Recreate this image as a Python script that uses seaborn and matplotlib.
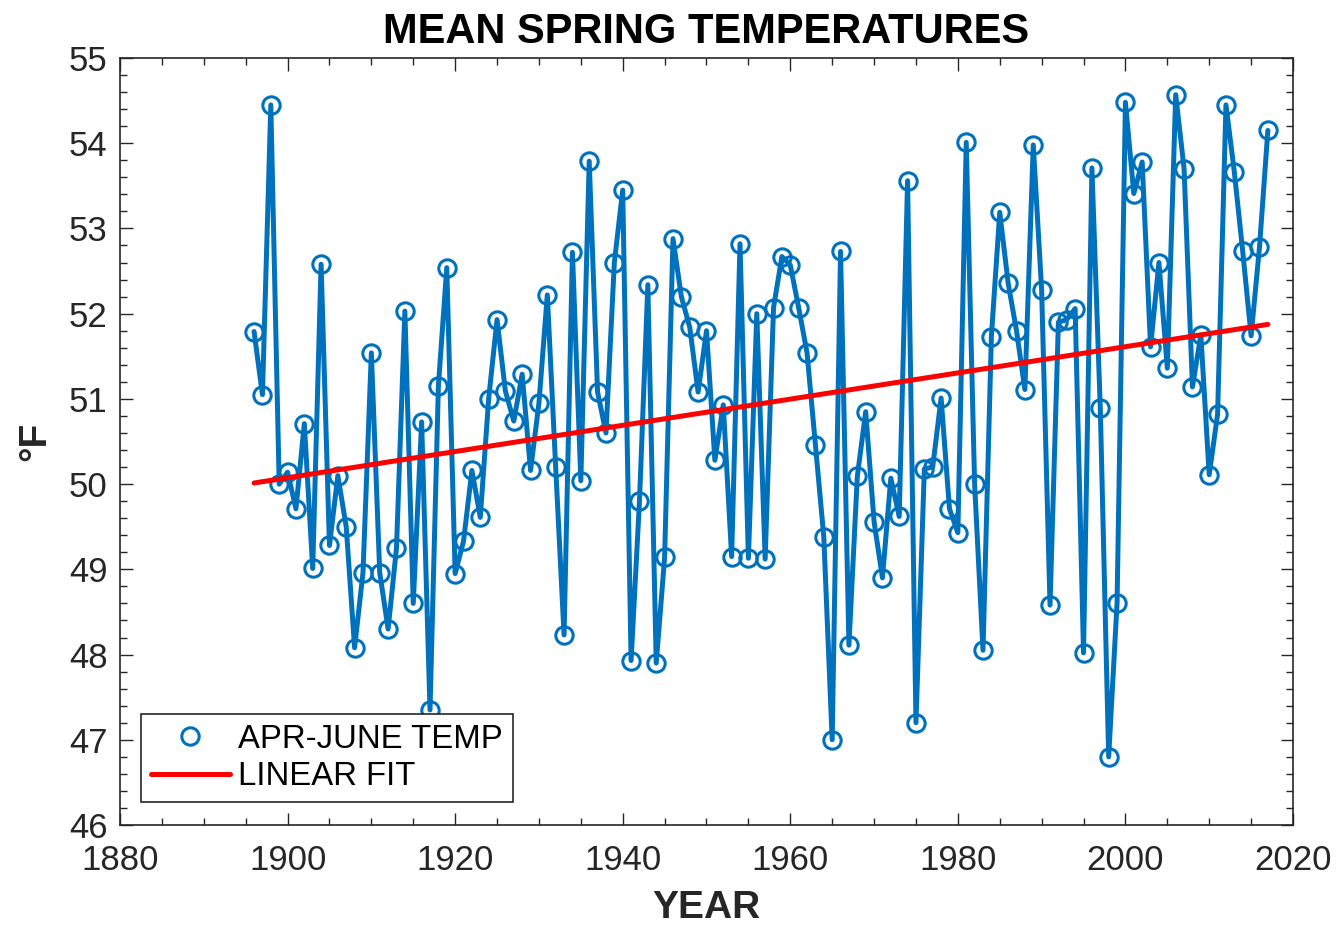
import numpy as np
import pandas as pd
import seaborn as sns
import matplotlib
matplotlib.use("Agg")
import matplotlib.pyplot as plt
from matplotlib.lines import Line2D
from matplotlib.ticker import MultipleLocator

# ---- data ----
years = list(range(1896, 2018))
temps = [
    51.79, 51.05, 54.45, 50.00, 50.14, 49.71, 50.71, 49.01, 52.58, 49.28,  # 1896-1905
    50.10, 49.50, 48.08, 48.96, 51.54, 48.96, 48.30, 49.25, 52.03, 48.60,  # 1906-1915
    50.73, 47.35, 51.15, 52.54, 48.95, 49.33, 50.16, 49.61, 51.00, 51.93,  # 1916-1925
    51.09, 50.74, 51.29, 50.16, 50.95, 52.22, 50.20, 48.23, 52.72, 50.04,  # 1926-1935
    53.79, 51.08, 50.60, 52.60, 53.45, 47.93, 49.80, 52.34, 47.90, 49.14,  # 1936-1945
    52.88, 52.20, 51.84, 51.08, 51.80, 50.28, 50.93, 49.15, 52.82, 49.13,  # 1946-1955
    52.00, 49.12, 52.07, 52.67, 52.57, 52.07, 51.54, 50.46, 49.38, 47.00,  # 1956-1965
    52.73, 48.11, 50.09, 50.85, 49.56, 48.90, 50.07, 49.62, 53.56, 47.20,  # 1966-1975
    50.18, 50.20, 51.01, 49.71, 49.43, 54.01, 50.00, 48.05, 51.73, 53.19,  # 1976-1985
    52.36, 51.80, 51.11, 53.98, 52.28, 48.58, 51.90, 51.93, 52.06, 48.02,  # 1986-1995
    53.71, 50.89, 46.80, 48.60, 54.48, 53.41, 53.78, 51.61, 52.60, 51.36,  # 1996-2005
    54.57, 53.70, 51.14, 51.75, 50.11, 50.82, 54.45, 53.66, 52.73, 51.74,  # 2006-2015
    52.78, 54.15,                                                          # 2016-2017
]
series_label = "APR-JUNE TEMP"
fit_label = "LINEAR FIT"
title = "MEAN SPRING TEMPERATURES"
xlabel = "YEAR"
ylabel = "°F"

df = pd.DataFrame({"year": years, "temp": temps})
slope, intercept = np.polyfit(df["year"], df["temp"], 1)
df["fit"] = slope * df["year"] + intercept

# ---- style ----
sns.set_theme(style="white")
plt.rcParams["font.family"] = ["Liberation Sans", "DejaVu Sans"]

BLUE = "#0072BD"
RED = "#FF0000"
AX_COL = "#262626"
MS = 12.5
MEW = 2.2

fig = plt.figure(figsize=(13.38, 9.27), dpi=100)
ax = fig.add_axes([120 / 1338, 1 - 825 / 927, (1293 - 120) / 1338, (825 - 58) / 927])

sns.lineplot(data=df, x="year", y="temp", ax=ax, color=BLUE, linewidth=3.6,
             marker="o", markersize=MS, markerfacecolor="none",
             markeredgecolor=BLUE, markeredgewidth=MEW, zorder=3)
sns.lineplot(data=df, x="year", y="fit", ax=ax, color=RED, linewidth=3.6, zorder=4)

ax.set_xlim(1880, 2020)
ax.set_ylim(46, 55)
ax.xaxis.set_major_locator(MultipleLocator(20))
ax.xaxis.set_minor_locator(MultipleLocator(5))
ax.yaxis.set_major_locator(MultipleLocator(1))
ax.yaxis.set_minor_locator(MultipleLocator(0.2))

ax.tick_params(which="both", direction="in", top=True, right=True,
               bottom=True, left=True, color=AX_COL, width=1.0)
ax.tick_params(which="major", length=9, labelsize=25, labelcolor=AX_COL)
ax.tick_params(axis="y", which="major", pad=9)
ax.tick_params(axis="x", which="major", pad=14)
ax.tick_params(which="minor", length=5)
for s in ax.spines.values():
    s.set_color(AX_COL)
    s.set_linewidth(1.2)

ax.set_title(title, fontsize=30, fontweight="bold", color="black", pad=11)
ax.set_xlabel(xlabel, fontsize=28, fontweight="bold", color=AX_COL, labelpad=9)
ax.set_ylabel(ylabel, fontsize=28, fontweight="bold", color=AX_COL, labelpad=11)

handles = [
    Line2D([], [], linestyle="none", marker="o", markersize=MS,
           markerfacecolor="none", markeredgecolor=BLUE, markeredgewidth=MEW),
    Line2D([], [], color=RED, linewidth=3.6),
]
leg = ax.legend(handles, [series_label, fit_label], loc="lower left",
                bbox_to_anchor=(21 / 1173, 23 / 767), borderaxespad=0,
                fontsize=23.7, frameon=True, fancybox=False, framealpha=1,
                edgecolor=AX_COL, handlelength=2.4, handletextpad=0.25,
                labelspacing=0.2, borderpad=0.3)
leg.get_frame().set_linewidth(1.2)
leg.set_zorder(10)
for t in leg.get_texts():
    t.set_color("black")

fig.savefig("out.png", dpi=100)
